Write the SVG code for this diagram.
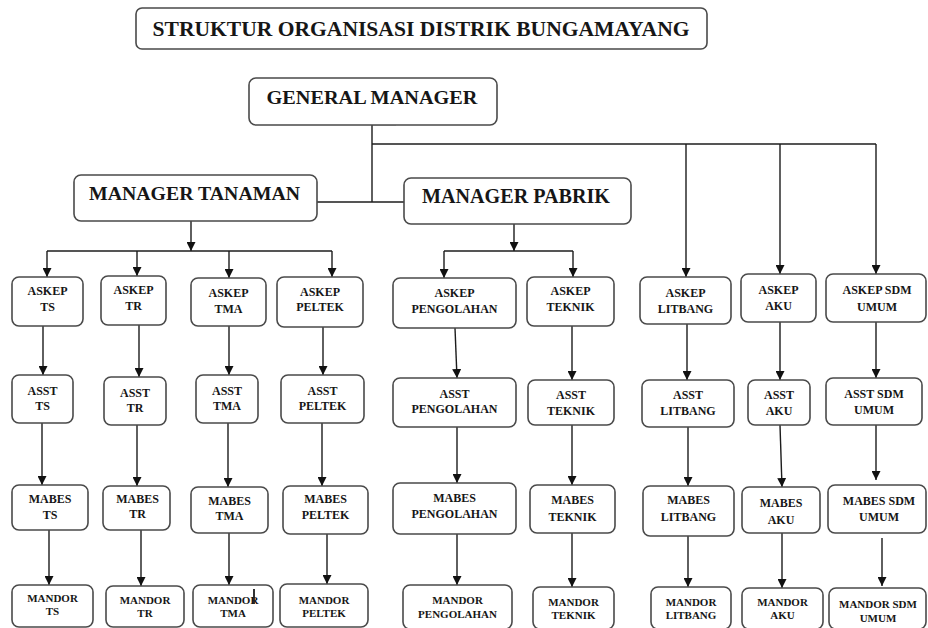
<svg xmlns="http://www.w3.org/2000/svg" width="928" height="628" viewBox="0 0 928 628">
<defs>
<style>
.box{fill:#fff;stroke:#4a4a4a;stroke-width:1.6}
.t{font-family:"Liberation Serif","Times New Roman",serif;font-weight:bold;fill:#161616;text-anchor:middle}
.big{font-size:20px}
.s{font-size:12px}
.m{font-size:11px}
.c{stroke:#1c1c1c;stroke-width:1.4;fill:none}
.a{marker-end:url(#arr)}
</style>
<marker id="arr" viewBox="0 0 10 10" refX="10" refY="5" markerWidth="9" markerHeight="9" markerUnits="userSpaceOnUse" orient="auto">
<path d="M0,0 L10,5 L0,10 z" fill="#111"/>
</marker>
</defs>
<rect width="928" height="628" fill="#fff"/>

<g id="title">
<rect class="box" x="136" y="8" width="571" height="41" rx="6"/>
<text class="t" x="421" y="36" font-size="22" textLength="537" lengthAdjust="spacingAndGlyphs">STRUKTUR ORGANISASI DISTRIK BUNGAMAYANG</text>
</g>

<g id="connectors">
<line class="c" x1="372" y1="125" x2="372" y2="202"/>
<line class="c" x1="372" y1="124.5" x2="396" y2="124.5" stroke-width="2"/>
<line class="c" x1="372" y1="144" x2="876" y2="144"/>
<line class="c" x1="317" y1="202" x2="404" y2="202"/>
<line class="c a" x1="686" y1="144" x2="686" y2="277"/>
<line class="c a" x1="780" y1="144" x2="780" y2="274"/>
<line class="c a" x1="876" y1="144" x2="876" y2="274"/>
<line class="c a" x1="191" y1="221" x2="191" y2="251"/>
<line class="c" x1="47" y1="251" x2="332" y2="251"/>
<line class="c a" x1="47" y1="251" x2="47" y2="277"/>
<line class="c a" x1="137" y1="251" x2="137" y2="276"/>
<line class="c a" x1="229" y1="251" x2="229" y2="278"/>
<line class="c a" x1="332" y1="251" x2="332" y2="277"/>
<line class="c a" x1="514" y1="224" x2="514" y2="251"/>
<line class="c" x1="444" y1="251" x2="573" y2="251"/>
<line class="c a" x1="444" y1="251" x2="444" y2="278"/>
<line class="c a" x1="573" y1="251" x2="573" y2="277"/>
<line class="c a" x1="43" y1="326" x2="43" y2="375"/>
<line class="c a" x1="139" y1="325" x2="139" y2="377"/>
<line class="c a" x1="229" y1="326" x2="229" y2="375"/>
<line class="c a" x1="323" y1="327" x2="323" y2="375"/>
<line class="c a" x1="42" y1="423" x2="42" y2="485"/>
<line class="c a" x1="137" y1="425" x2="137" y2="486"/>
<line class="c a" x1="228" y1="423" x2="228" y2="487"/>
<line class="c a" x1="322" y1="423" x2="322" y2="486"/>
<line class="c a" x1="49" y1="530" x2="49" y2="585"/>
<line class="c a" x1="141" y1="530" x2="141" y2="586"/>
<line class="c a" x1="229" y1="533" x2="229" y2="585"/>
<line class="c a" x1="327" y1="534" x2="327" y2="584"/>
<line class="c a" x1="455" y1="328" x2="457" y2="378"/>
<line class="c a" x1="572" y1="326" x2="572" y2="380"/>
<line class="c a" x1="687" y1="324" x2="687" y2="380"/>
<line class="c a" x1="780" y1="322" x2="780" y2="380"/>
<line class="c a" x1="876" y1="322" x2="876" y2="378"/>
<line class="c a" x1="457" y1="427" x2="457" y2="483"/>
<line class="c a" x1="572" y1="425" x2="572" y2="485"/>
<line class="c a" x1="688" y1="427" x2="688" y2="486"/>
<line class="c a" x1="780" y1="425" x2="782" y2="487"/>
<line class="c a" x1="876" y1="425" x2="876" y2="480"/>
<line class="c a" x1="457" y1="534" x2="457" y2="585"/>
<line class="c a" x1="572" y1="533" x2="572" y2="587"/>
<line class="c a" x1="688" y1="536" x2="688" y2="587"/>
<line class="c a" x1="782" y1="533" x2="782" y2="588"/>
<line class="c a" x1="882" y1="538" x2="882" y2="586"/>
</g>

<g id="general-manager">
<rect class="box" x="249" y="78" width="248" height="47" rx="7"/>
<text class="t" x="372" y="104" font-size="19.5" textLength="211" lengthAdjust="spacingAndGlyphs">GENERAL MANAGER</text>
</g>
<g id="manager-tanaman">
<rect class="box" x="74" y="175" width="243" height="46" rx="7"/>
<text class="t" x="194.5" y="200" font-size="19" textLength="211" lengthAdjust="spacingAndGlyphs">MANAGER TANAMAN</text>
</g>
<g id="manager-pabrik">
<rect class="box" x="404" y="178" width="227" height="46" rx="7"/>
<text class="t" x="516" y="203" font-size="20.5" textLength="188" lengthAdjust="spacingAndGlyphs">MANAGER PABRIK</text>
</g>

<g id="askep-ts"><rect class="box" x="12" y="277" width="71" height="49" rx="7"/><text class="t s" x="47.5" y="295">ASKEP</text><text class="t s" x="47.5" y="311">TS</text></g>
<g id="askep-tr"><rect class="box" x="101" y="276" width="65" height="49" rx="7"/><text class="t s" x="133.5" y="294">ASKEP</text><text class="t s" x="133.5" y="310">TR</text></g>
<g id="askep-tma"><rect class="box" x="191" y="278" width="75" height="48" rx="7"/><text class="t s" x="228.5" y="297">ASKEP</text><text class="t s" x="228.5" y="313">TMA</text></g>
<g id="askep-peltek"><rect class="box" x="277" y="277" width="86" height="50" rx="7"/><text class="t s" x="320" y="296">ASKEP</text><text class="t s" x="320" y="311">PELTEK</text></g>

<g id="asst-ts"><rect class="box" x="12" y="375" width="61" height="48" rx="7"/><text class="t s" x="42.5" y="395">ASST</text><text class="t s" x="42.5" y="410">TS</text></g>
<g id="asst-tr"><rect class="box" x="104" y="377" width="62" height="48" rx="7"/><text class="t s" x="135" y="397">ASST</text><text class="t s" x="135" y="412">TR</text></g>
<g id="asst-tma"><rect class="box" x="196" y="375" width="62" height="48" rx="7"/><text class="t s" x="227" y="395">ASST</text><text class="t s" x="227" y="410">TMA</text></g>
<g id="asst-peltek"><rect class="box" x="281" y="375" width="83" height="48" rx="7"/><text class="t s" x="322.5" y="395">ASST</text><text class="t s" x="322.5" y="410">PELTEK</text></g>

<g id="mabes-ts"><rect class="box" x="12" y="485" width="76" height="45" rx="7"/><text class="t s" x="50" y="503">MABES</text><text class="t s" x="50" y="519">TS</text></g>
<g id="mabes-tr"><rect class="box" x="103" y="486" width="67" height="44" rx="7"/><text class="t s" x="137.5" y="503">MABES</text><text class="t s" x="137.5" y="518">TR</text></g>
<g id="mabes-tma"><rect class="box" x="191" y="487" width="77" height="46" rx="7"/><text class="t s" x="229.5" y="505">MABES</text><text class="t s" x="229.5" y="520">TMA</text></g>
<g id="mabes-peltek"><rect class="box" x="283" y="486" width="85" height="48" rx="7"/><text class="t s" x="325.5" y="503">MABES</text><text class="t s" x="325.5" y="519">PELTEK</text></g>

<g id="mandor-ts"><rect class="box" x="12" y="585" width="81" height="42" rx="7"/><text class="t m" x="52.5" y="602">MANDOR</text><text class="t m" x="52.5" y="615">TS</text></g>
<g id="mandor-tr"><rect class="box" x="106" y="586" width="78" height="41" rx="7"/><text class="t m" x="145" y="604">MANDOR</text><text class="t m" x="145" y="617">TR</text></g>
<g id="mandor-tma"><rect class="box" x="193" y="585" width="80" height="42" rx="7"/><text class="t m" x="233" y="604">MANDOR</text><text class="t m" x="233" y="617">TMA</text><line x1="254" y1="589" x2="254" y2="604" stroke="#1c1c1c" stroke-width="1.8"/></g>
<g id="mandor-peltek"><rect class="box" x="280" y="584" width="88" height="43" rx="7"/><text class="t m" x="324" y="604">MANDOR</text><text class="t m" x="324" y="617">PELTEK</text></g>

<g id="askep-pengolahan"><rect class="box" x="393" y="278" width="123" height="50" rx="7"/><text class="t s" x="454.5" y="297">ASKEP</text><text class="t s" x="454.5" y="313">PENGOLAHAN</text></g>
<g id="askep-teknik"><rect class="box" x="527" y="277" width="87" height="49" rx="7"/><text class="t s" x="570.5" y="295">ASKEP</text><text class="t s" x="570.5" y="311">TEKNIK</text></g>
<g id="askep-litbang"><rect class="box" x="640" y="277" width="91" height="47" rx="7"/><text class="t s" x="685.5" y="297">ASKEP</text><text class="t s" x="685.5" y="313">LITBANG</text></g>
<g id="askep-aku"><rect class="box" x="741" y="274" width="75" height="48" rx="7"/><text class="t s" x="778.5" y="294">ASKEP</text><text class="t s" x="778.5" y="310">AKU</text></g>
<g id="askep-sdm-umum"><rect class="box" x="826" y="274" width="100" height="48" rx="7"/><text class="t s" x="877" y="294">ASKEP SDM</text><text class="t s" x="877" y="310.5">UMUM</text></g>

<g id="asst-pengolahan"><rect class="box" x="393" y="378" width="123" height="49" rx="7"/><text class="t s" x="454.5" y="398">ASST</text><text class="t s" x="454.5" y="413">PENGOLAHAN</text></g>
<g id="asst-teknik"><rect class="box" x="528" y="380" width="86" height="45" rx="7"/><text class="t s" x="571" y="399">ASST</text><text class="t s" x="571" y="415">TEKNIK</text></g>
<g id="asst-litbang"><rect class="box" x="642" y="380" width="92" height="47" rx="7"/><text class="t s" x="688" y="399">ASST</text><text class="t s" x="688" y="415">LITBANG</text></g>
<g id="asst-aku"><rect class="box" x="748" y="380" width="62" height="45" rx="7"/><text class="t s" x="779" y="399">ASST</text><text class="t s" x="779" y="415">AKU</text></g>
<g id="asst-sdm-umum"><rect class="box" x="826" y="378" width="96" height="47" rx="7"/><text class="t s" x="874" y="398">ASST SDM</text><text class="t s" x="874" y="414">UMUM</text></g>

<g id="mabes-pengolahan"><rect class="box" x="393" y="483" width="123" height="51" rx="7"/><text class="t s" x="454.5" y="502">MABES</text><text class="t s" x="454.5" y="517.5">PENGOLAHAN</text></g>
<g id="mabes-teknik"><rect class="box" x="530" y="485" width="85" height="48" rx="7"/><text class="t s" x="572.5" y="503.5">MABES</text><text class="t s" x="572.5" y="520.5">TEKNIK</text></g>
<g id="mabes-litbang"><rect class="box" x="643" y="486" width="91" height="50" rx="7"/><text class="t s" x="688.5" y="503.5">MABES</text><text class="t s" x="688.5" y="520.5">LITBANG</text></g>
<g id="mabes-aku"><rect class="box" x="742" y="487" width="78" height="46" rx="7"/><text class="t s" x="781" y="506.5">MABES</text><text class="t s" x="781" y="523.5">AKU</text></g>
<g id="mabes-sdm-umum"><rect class="box" x="828" y="485" width="98" height="48" rx="7"/><text class="t s" x="879" y="505">MABES SDM</text><text class="t s" x="879" y="520.5">UMUM</text></g>

<g id="mandor-pengolahan"><rect class="box" x="403" y="585" width="109" height="44" rx="7"/><text class="t m" x="457.5" y="604">MANDOR</text><text class="t m" x="457.5" y="618">PENGOLAHAN</text></g>
<g id="mandor-teknik"><rect class="box" x="533" y="587" width="81" height="42" rx="7"/><text class="t m" x="573.5" y="606">MANDOR</text><text class="t m" x="573.5" y="619">TEKNIK</text></g>
<g id="mandor-litbang"><rect class="box" x="651" y="587" width="80" height="42" rx="7"/><text class="t m" x="691" y="606">MANDOR</text><text class="t m" x="691" y="619">LITBANG</text></g>
<g id="mandor-aku"><rect class="box" x="742" y="588" width="81" height="41" rx="7"/><text class="t m" x="782.5" y="606">MANDOR</text><text class="t m" x="782.5" y="619">AKU</text></g>
<g id="mandor-sdm-umum"><rect class="box" x="829" y="588" width="97" height="41" rx="7"/><text class="t m" x="878" y="608">MANDOR SDM</text><text class="t m" x="878" y="621.5">UMUM</text></g>
</svg>
